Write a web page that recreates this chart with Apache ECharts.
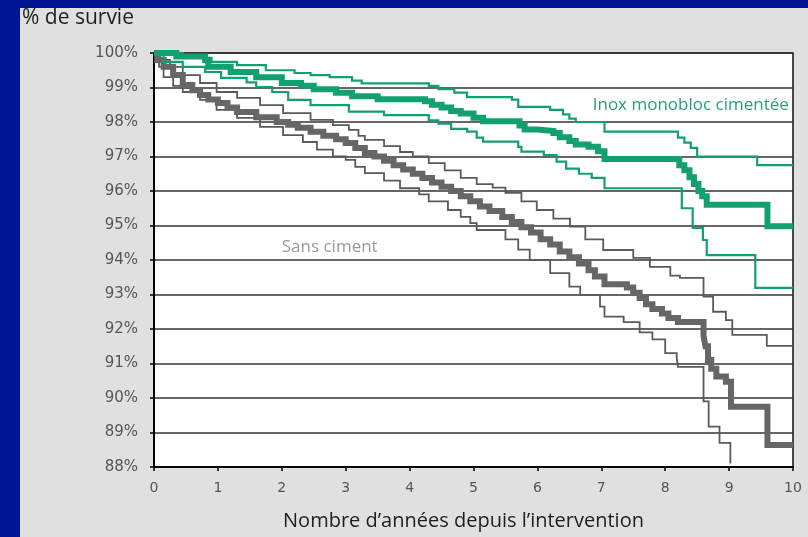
<!DOCTYPE html>
<html>
<head>
<meta charset="utf-8">
<script src="https://cdn.jsdelivr.net/npm/echarts@6/dist/echarts.min.js"></script>
<style>
  html, body { margin: 0; padding: 0; background: #001595; }
  #chart { width: 808px; height: 537px; }
</style>
</head>
<body>
<div id="chart"></div>
<script>
// Kaplan-Meier curves: [years, % survival]
// Inox monobloc cimentée (green): estimate + confidence bounds
const inoxMid = [[0,100],[0.35,99.9],[0.8,99.8],[0.85,99.6],[1.2,99.45],[1.6,99.3],[2.0,99.13],[2.3,99.05],[2.5,98.95],[2.85,98.85],[3.1,98.75],[3.5,98.66],[4.24,98.6],[4.35,98.5],[4.5,98.42],[4.65,98.32],[4.8,98.25],[5.0,98.12],[5.15,98.02],[5.72,97.9],[5.8,97.78],[6.0,97.74],[6.25,97.68],[6.35,97.56],[6.5,97.45],[6.6,97.35],[6.8,97.28],[6.95,97.15],[7.05,96.93],[8.22,96.75],[8.3,96.6],[8.38,96.4],[8.45,96.2],[8.52,96.0],[8.58,95.85],[8.65,95.6],[9.6,94.98],[10,94.98]];
const inoxUp = [[0,100],[0.45,99.94],[0.8,99.86],[0.9,99.74],[1.3,99.65],[1.75,99.5],[2.2,99.42],[2.45,99.36],[2.75,99.3],[3.1,99.2],[3.25,99.12],[4.3,99.05],[4.45,98.95],[4.7,98.85],[4.9,98.72],[5.6,98.65],[5.7,98.44],[6.2,98.35],[6.4,98.22],[6.5,98.1],[6.6,98.0],[7.05,97.72],[8.2,97.55],[8.3,97.4],[8.4,97.25],[8.5,97.0],[9.44,96.75],[10,96.75]];
const inoxLo = [[0,100],[0.15,99.74],[0.45,99.6],[0.8,99.45],[1.05,99.28],[1.45,99.15],[1.6,99.01],[1.85,98.87],[2.1,98.64],[2.45,98.49],[3.05,98.3],[3.6,98.2],[4.3,98.05],[4.45,97.95],[4.65,97.8],[4.9,97.72],[5.05,97.55],[5.15,97.43],[5.7,97.28],[5.75,97.14],[6.1,97.04],[6.3,96.85],[6.45,96.65],[6.65,96.5],[6.85,96.38],[7.05,96.08],[8.26,95.5],[8.43,94.93],[8.59,94.58],[8.65,94.14],[9.41,93.19],[10,93.19]];

// Sans ciment (grey): estimate + confidence bounds
const sansMid = [[0,100],[0.05,99.8],[0.15,99.6],[0.3,99.36],[0.45,99.07],[0.6,98.92],[0.72,98.78],[0.85,98.65],[1.0,98.55],[1.15,98.42],[1.3,98.29],[1.6,98.14],[1.92,98.0],[2.1,97.92],[2.25,97.83],[2.45,97.72],[2.65,97.6],[2.85,97.5],[3.0,97.39],[3.15,97.25],[3.3,97.1],[3.45,97.0],[3.6,96.88],[3.75,96.75],[3.9,96.62],[4.05,96.5],[4.2,96.38],[4.35,96.25],[4.5,96.12],[4.65,96.0],[4.8,95.85],[4.95,95.7],[5.1,95.55],[5.25,95.42],[5.45,95.25],[5.6,95.1],[5.75,94.95],[5.9,94.8],[6.05,94.6],[6.2,94.45],[6.35,94.25],[6.5,94.08],[6.65,93.9],[6.8,93.7],[6.9,93.52],[7.05,93.3],[7.4,93.2],[7.5,93.05],[7.6,92.9],[7.7,92.72],[7.8,92.58],[7.95,92.45],[8.05,92.32],[8.2,92.2],[8.6,91.8],[8.63,91.5],[8.67,91.1],[8.72,90.85],[8.8,90.62],[8.95,90.47],[9.03,89.75],[9.6,88.64],[10,88.64]];
const sansUp = [[0,100],[0.1,99.8],[0.25,99.6],[0.45,99.36],[0.72,99.13],[0.98,98.87],[1.3,98.7],[1.66,98.49],[2.02,98.26],[2.45,98.06],[2.8,97.91],[3.05,97.77],[3.2,97.6],[3.3,97.48],[3.6,97.3],[3.85,97.13],[4.05,97.0],[4.3,96.81],[4.55,96.6],[4.8,96.38],[5.05,96.2],[5.3,96.1],[5.5,95.95],[5.75,95.7],[5.99,95.45],[6.25,95.2],[6.51,94.97],[6.75,94.6],[7.03,94.29],[7.5,94.06],[7.76,93.8],[8.08,93.55],[8.23,93.48],[8.6,92.94],[8.75,92.5],[8.95,92.26],[9.05,91.83],[9.59,91.51],[10,91.51]];
const sansLo = [[0,100],[0.08,99.6],[0.15,99.3],[0.3,99.05],[0.45,98.87],[0.72,98.64],[0.98,98.35],[1.3,98.12],[1.66,97.86],[2.02,97.62],[2.33,97.42],[2.55,97.2],[2.8,97.0],[3.0,96.9],[3.15,96.7],[3.3,96.52],[3.6,96.3],[3.85,96.08],[4.15,95.9],[4.3,95.7],[4.6,95.45],[4.8,95.25],[4.95,95.07],[5.05,94.87],[5.5,94.6],[5.7,94.3],[5.88,94.0],[6.2,93.62],[6.5,93.23],[6.67,92.99],[6.98,92.65],[7.05,92.36],[7.35,92.2],[7.6,91.9],[7.8,91.7],[8.0,91.3],[8.18,91.16],[8.2,90.9],[8.6,89.9],[8.68,89.17],[8.85,88.7],[9.02,88.1]];

const yTitle = "% de survie";
const xTitle = "Nombre d’années depuis l’intervention";
const inoxName = "Inox monobloc cimentée";
const sansName = "Sans ciment";

const GREEN = "#13a070";
const GREY = "#666666";
const GREY_THIN = "#5a5a5a";
const FONT = "'Open Sans', 'DejaVu Sans', sans-serif";
const TICK_FONT = "'DejaVu Sans', sans-serif";

const chart = echarts.init(document.getElementById("chart"), null, { renderer: "canvas" });

function km(name, data, color, width, z) {
  return {
    name: name,
    type: "line",
    step: "end",
    data: data,
    showSymbol: false,
    silent: true,
    z: z,
    lineStyle: { color: color, width: width, cap: "butt", join: "miter" }
  };
}

function tag(text, coord, color) {
  return {
    symbol: "rect",
    symbolSize: 1,
    silent: true,
    itemStyle: { color: "rgba(0,0,0,0)" },
    label: { show: true, position: "inside", color: color, fontSize: 17, fontFamily: FONT },
    data: [{ coord: coord, value: text, label: { formatter: text } }]
  };
}

const sMidSeries = km("Sans ciment", sansMid, GREY, 6, 4);
sMidSeries.markPoint = tag(sansName, [2.75, 94.38], "#9a9a9a");
const iMidSeries = km("Inox", inoxMid, GREEN, 6, 4);
iMidSeries.markPoint = tag(inoxName, [8.4, 98.49], "#2a9e78");

chart.setOption({
  animation: false,
  backgroundColor: "#001595",
  graphic: [
    { type: "rect", left: 20, top: 8, z: -10, shape: { width: 800, height: 540 }, style: { fill: "#e0e0e0" } },
    { type: "text", left: 22, top: 8, style: { text: yTitle, fontSize: 21, fontFamily: FONT, fill: "#1e1e1e" } }
  ],
  grid: {
    left: 154, right: 15, top: 53, bottom: 70,
    show: true, backgroundColor: "#ffffff", borderColor: "#111", borderWidth: 1.5
  },
  xAxis: {
    type: "value", min: 0, max: 10, interval: 1,
    name: xTitle, nameLocation: "middle", nameGap: 44,
    nameTextStyle: { fontSize: 20, fontFamily: FONT, color: "#1e1e1e", padding: [0, 20, 0, 0] },
    axisLine: { show: true, lineStyle: { color: "#000", width: 2 } },
    axisTick: { show: true, length: 4, lineStyle: { color: "#000", width: 1.5 } },
    axisLabel: { margin: 14, fontSize: 14, fontFamily: TICK_FONT, color: "#555" },
    splitLine: { show: false }
  },
  yAxis: {
    type: "value", min: 88, max: 100, interval: 1,
    axisLine: { show: true, lineStyle: { color: "#000", width: 2 } },
    axisTick: { show: true, length: 4, lineStyle: { color: "#000", width: 1.5 } },
    axisLabel: { margin: 16, fontSize: 15, fontFamily: TICK_FONT, color: "#555", formatter: "{value}%" },
    splitLine: { show: true, lineStyle: { color: "#333", width: 1.5 } }
  },
  series: [
    km("Sans ciment haut", sansUp, GREY_THIN, 1.8, 3),
    km("Sans ciment bas", sansLo, GREY_THIN, 1.8, 3),
    sMidSeries,
    km("Inox haut", inoxUp, GREEN, 2.2, 5),
    km("Inox bas", inoxLo, GREEN, 2.2, 5),
    iMidSeries
  ]
});
</script>
</body>
</html>
